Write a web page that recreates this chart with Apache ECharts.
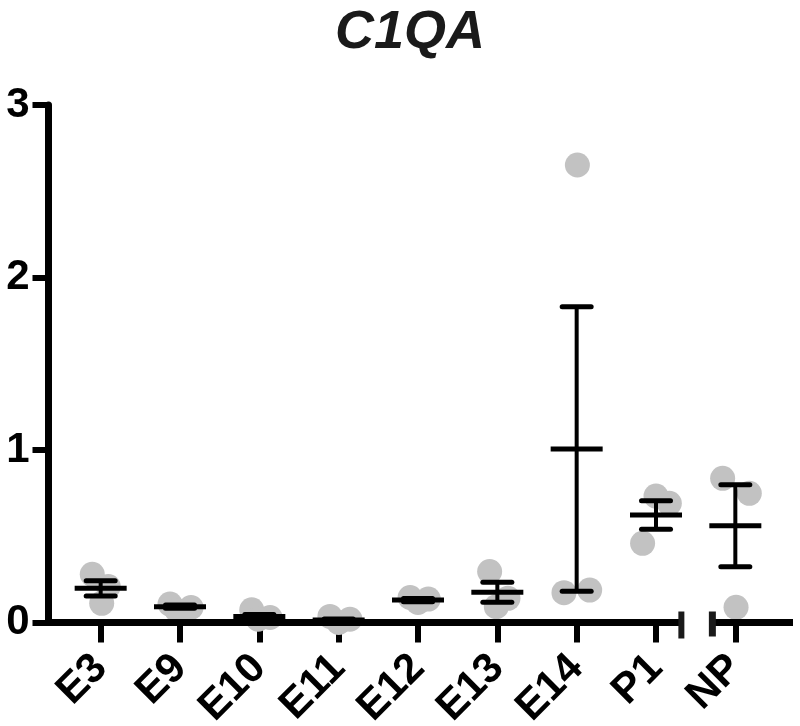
<!DOCTYPE html>
<html>
<head>
<meta charset="utf-8">
<script src="https://cdn.jsdelivr.net/npm/echarts@6/dist/echarts.min.js"></script>
<style>
  html, body { margin: 0; padding: 0; background: #ffffff; }
  #chart { width: 800px; height: 726px; }
</style>
</head>
<body>
<div id="chart"></div>
<script>
// ---- data ----
const titleText = 'C1QA';
const categories = ['E3', 'E9', 'E10', 'E11', 'E12', 'E13', 'E14', 'P1', 'NP'];
const yTicks = [0, 1, 2, 3];
// individual replicates (three per group)
const pointValues = [
  [0.279, 0.208, 0.111],   // E3
  [0.107, 0.087, 0.070],   // E9
  [0.074, 0.029, 0.019],   // E10
  [0.035, 0.019, 0.000],   // E11
  [0.145, 0.136, 0.116],   // E12
  [0.295, 0.140, 0.092],   // E13
  [2.652, 0.173, 0.188],   // E14
  [0.733, 0.691, 0.459],   // P1
  [0.836, 0.749, 0.088]    // NP
];
// horizontal scatter of the replicates, in category units
const pointJitter = [
  [-0.106, 0.096, 0.013],
  [-0.126, 0.139, -0.038],
  [-0.096, 0.135, -0.016],
  [-0.110, 0.142, 0.000],
  [-0.100, 0.130, 0.000],
  [-0.097, 0.134, -0.013],
  [0.009, -0.160, 0.164],
  [0.000, 0.168, -0.169],
  [-0.160, 0.176, 0.009]
];
// group mean and SEM
const meanValues = [0.198, 0.092, 0.035, 0.015, 0.130, 0.175, 1.006, 0.623, 0.561];
const semValues  = [0.044, 0.009, 0.012, 0.006, 0.009, 0.058, 0.825, 0.083, 0.238];
// axis break sits between these two groups
const breakBetween = ['P1', 'NP'];

// ---- build series data ----
const scatterData = [];
pointValues.forEach((vals, i) => {
  vals.forEach((v, k) => scatterData.push([i + pointJitter[i][k], v]));
});
const errData = meanValues.map((m, i) => [i, m, semValues[i]]);
const breakPos = (categories.indexOf(breakBetween[0]) + categories.indexOf(breakBetween[1])) / 2;

const FONT = '"Liberation Sans", Arial, sans-serif';
const chart = echarts.init(document.getElementById('chart'), null, { renderer: 'canvas' });

chart.setOption({
  backgroundColor: '#ffffff',
  animation: false,
  title: {
    text: titleText,
    left: 405,
    top: 1,
    textAlign: 'center',
    textStyle: {
      fontFamily: FONT, fontSize: 54, fontWeight: 'bold', fontStyle: 'italic', color: '#1a1a1a'
    }
  },
  grid: {
    left: 61, right: 25, top: 105, bottom: 103.5,
    containLabel: false, outerBoundsMode: 'none'
  },
  xAxis: [
    {
      type: 'category',
      data: categories,
      boundaryGap: true,
      axisLine: { show: false },
      axisTick: { show: true, alignWithLabel: true, length: 20, lineStyle: { color: '#000', width: 6 } },
      axisLabel: {
        interval: 0, rotate: 45, margin: 39,
        fontFamily: FONT, fontSize: 42, fontWeight: 'bold', color: '#000'
      },
      splitLine: { show: false }
    },
    {
      type: 'value', min: -0.5, max: 8.5, show: false
    }
  ],
  yAxis: {
    type: 'value',
    min: 0, max: 3, interval: 1,
    offset: 12.5,
    axisLine: { show: true, onZero: false, lineStyle: { color: '#000', width: 7 } },
    axisTick: { show: true, length: 16, lineStyle: { color: '#000', width: 6 } },
    axisLabel: {
      margin: 19, fontFamily: FONT, fontSize: 42, fontWeight: 'bold', color: '#000',
      formatter: v => (yTicks.indexOf(v) >= 0 ? String(v) : '')
    },
    splitLine: { show: false }
  },
  series: [
    {
      type: 'scatter',
      xAxisIndex: 1,
      data: scatterData,
      symbol: 'circle',
      symbolSize: 25,
      clip: false,
      itemStyle: { color: '#c2c2c2', opacity: 1 },
      z: 2
    },
    {
      type: 'custom',
      xAxisIndex: 1,
      data: errData,
      z: 5,
      renderItem: function (params, api) {
        const x = api.value(0), m = api.value(1), s = api.value(2);
        const c = api.coord([x, m]);
        const hi = api.coord([x, m + s]);
        const lo = api.coord([x, m - s]);
        const halfMean = 26, halfCap = 14.5;
        return {
          type: 'group',
          children: [
            { type: 'line', shape: { x1: c[0], y1: hi[1], x2: c[0], y2: lo[1] },
              style: { stroke: '#000', lineWidth: 4 } },
            { type: 'line', shape: { x1: c[0] - halfCap, y1: hi[1], x2: c[0] + halfCap, y2: hi[1] },
              style: { stroke: '#000', lineWidth: 5, lineCap: 'round' } },
            { type: 'line', shape: { x1: c[0] - halfCap, y1: lo[1], x2: c[0] + halfCap, y2: lo[1] },
              style: { stroke: '#000', lineWidth: 5, lineCap: 'round' } },
            { type: 'line', shape: { x1: c[0] - halfMean, y1: c[1], x2: c[0] + halfMean, y2: c[1] },
              style: { stroke: '#000', lineWidth: 5 } }
          ]
        };
      }
    },
    {
      // x axis line with a break between P1 and NP
      type: 'custom',
      xAxisIndex: 1,
      data: [[breakPos]],
      z: 6,
      silent: true,
      clip: false,
      renderItem: function (params, api) {
        const cs = params.coordSys;
        const y0 = api.coord([0, 0])[1];
        const bx = api.coord([api.value(0), 0])[0];
        const st = { stroke: '#000', lineWidth: 7 };
        return {
          type: 'group',
          children: [
            { type: 'line', shape: { x1: cs.x - 16, y1: y0, x2: bx - 13, y2: y0 }, style: st },
            { type: 'line', shape: { x1: bx + 13.5, y1: y0, x2: cs.x + cs.width + 18, y2: y0 }, style: st },
            { type: 'line', shape: { x1: bx - 14.3, y1: y0 - 11, x2: bx - 14.3, y2: y0 + 16 },
              style: { stroke: '#1a1a1a', lineWidth: 6 } },
            { type: 'line', shape: { x1: bx + 16.7, y1: y0 - 11, x2: bx + 16.7, y2: y0 + 14 },
              style: { stroke: '#1a1a1a', lineWidth: 7 } }
          ]
        };
      }
    }
  ]
});
</script>
</body>
</html>
